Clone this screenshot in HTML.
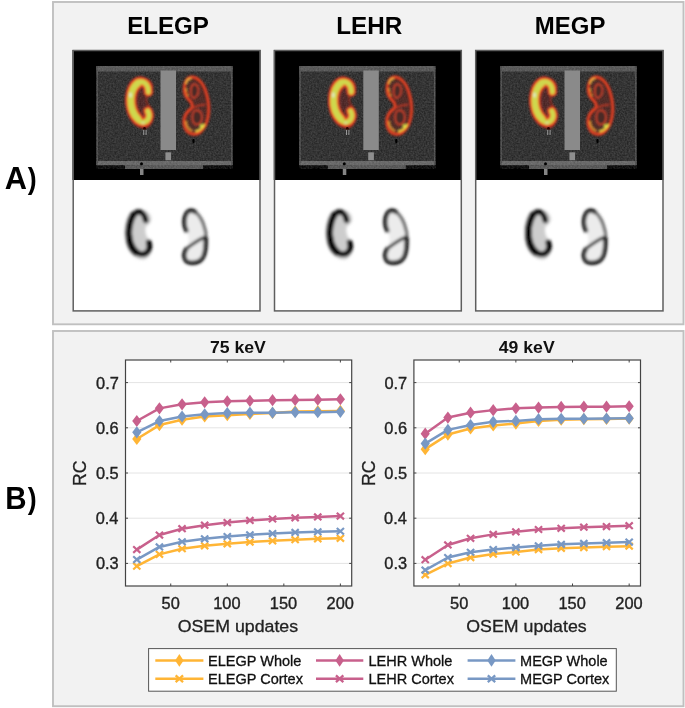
<!DOCTYPE html>
<html><head><meta charset="utf-8"><style>
html,body{margin:0;padding:0;background:#fff;width:685px;height:708px;overflow:hidden}
svg{display:block;will-change:transform;filter:blur(0.3px)}
text{font-family:"Liberation Sans", sans-serif;fill:#1a1a1a}
.hd{font-weight:bold;font-size:23.4px;fill:#000}
.ab{font-weight:bold;fill:#000}
.ttl{font-weight:bold;font-size:16.8px;fill:#111}
.tk{font-size:15.6px;fill:#222;stroke:#222;stroke-width:0.35px}
.lbl{font-size:17px;fill:#222;stroke:#222;stroke-width:0.3px}
.rc{font-size:17.7px;fill:#222;stroke:#222;stroke-width:0.3px}
.lg{font-size:13.9px;fill:#111;stroke:#111;stroke-width:0.3px}
</style></head><body>
<svg width="685" height="708" viewBox="0 0 685 708">

<defs>
<filter id="b08" x="-20%" y="-20%" width="140%" height="140%"><feGaussianBlur stdDeviation="0.8"/></filter>
<filter id="b15" x="-20%" y="-20%" width="140%" height="140%"><feGaussianBlur stdDeviation="1.4"/></filter>
<filter id="b18" x="-20%" y="-20%" width="140%" height="140%"><feGaussianBlur stdDeviation="1.7"/></filter>
<filter id="b13" x="-20%" y="-20%" width="140%" height="140%"><feGaussianBlur stdDeviation="1.75"/></filter>
<filter id="noise" x="0" y="0" width="100%" height="100%"><feTurbulence type="fractalNoise" baseFrequency="0.6" numOctaves="2" seed="3"/><feColorMatrix type="matrix" values="0 0 0 0 1  0 0 0 0 1  0 0 0 0 1  1.6 0 0 0 -0.3"/><feGaussianBlur stdDeviation="0.45"/></filter>
<path id="lk" stroke-linecap="round" d="M148.4,92 C148.6,86 145.5,81.6 140.5,81.6 C135.5,82 131.2,89 130.5,98 C130.1,107.5 133,116 138.5,120.5 C142,123.5 146.5,122.5 148.5,118.5 C149.5,116 149,113 147.8,111"/>
<path id="lko" d="M141,78 C147,77.7 152,81 152.5,87 C152.8,90 150,93 147,95 C146,99 147,104 150,107.5 C152,110 153.5,114 153,118 C152,124 148,128 144,127.8 C136,127.5 129,120 127,110 C125,100 126,90 130,83 C133,79 137,77 141,76.8 Z"/>
<path id="rk" d="M192.4,77 C198,77 204,82 207,90 C210,98 211,106 210.6,112 C210,120 207,128 201,132.5 C197,135 191,135 187.5,131.5 C184,128 183,122 184.5,117 C186,113 189,110 192.5,108 C193.5,105 192,102 189,99.5 C185.5,96.5 183.8,92 184.2,87.5 C184.8,81 188,77 192.4,77 Z"/>
</defs>

<defs><g id="ctc"><rect x="96.5" y="66" width="136" height="99" fill="#252525"/>
<rect x="96.5" y="66" width="136" height="5.5" fill="#4e4e4e"/>
<rect x="96.5" y="161" width="136" height="4.2" fill="#5e5e5e"/>
<rect x="96.5" y="66" width="1.4" height="99" fill="#4a4a4a"/>
<rect x="231.1" y="66" width="1.4" height="99" fill="#4a4a4a"/>
<rect x="125" y="165" width="78" height="4" fill="#4e4e4e"/>
<path d="M96.5,66H232.5V165.2H203V169H125V165.2H96.5Z" fill="#fff" filter="url(#noise)" opacity="0.14"/>
<rect x="140" y="169" width="3.5" height="6" fill="#858585"/>
<circle cx="141.5" cy="163.7" r="1.5" fill="#000"/>
<rect x="160.5" y="70.5" width="15.5" height="79.5" fill="#8a8a8a"/>
<rect x="165.4" y="152.3" width="5.7" height="8" fill="#8e8e8e"/>
<g filter="url(#b08)">
<use href="#lko" fill="#8a2018" fill-opacity="0.35" stroke="#b02a1c" stroke-width="1.2"/>
<use href="#lk" fill="none" stroke="#e03a26" stroke-width="9.6"/>
<path d="M138,83 C133,86.5 131,93 130.8,99.5 C130.6,107 133,114 138,119" fill="none" stroke="#e03a26" stroke-width="11.4" stroke-linecap="round"/>
<use href="#lk" fill="none" stroke="#e8a030" stroke-width="5.8"/>
<path d="M138,83 C133,86.5 131,93 130.8,99.5 C130.6,107 133,114 138,119" fill="none" stroke="#e8a030" stroke-width="7.4" stroke-linecap="round"/>
<use href="#lk" fill="none" stroke="#cfd84e" stroke-width="4.2"/>
<path d="M138,83 C133,86.5 131,93 130.8,99.5 C130.6,107 133,114 138,119" fill="none" stroke="#cfd84e" stroke-width="5.8" stroke-linecap="round"/>
<ellipse cx="130.5" cy="95" rx="1.6" ry="2.8" fill="#e4ead0" opacity="0.8"/>
<ellipse cx="143" cy="123" rx="2" ry="1.5" fill="#e0e4c0" opacity="0.5"/>
</g>
<g filter="url(#b08)"><g transform="matrix(0.93,0,0,1,12.9,0)">
<use href="#rk" fill="#6a2420" fill-opacity="0.55" stroke="#a02018" stroke-width="3.6"/>
<use href="#rk" fill="none" stroke="#e84a28" stroke-width="2.1"/>
<path d="M193,85 C196,83 199,85 199.5,89 C200,93 198,97 195,98 C192.5,98.5 191,95 191.2,91 C191.3,88 191.8,86 193,85Z" fill="#4a2a26" stroke="#c8402c" stroke-width="1.8"/>
<path d="M196,110.5 C200,109.5 203.5,112 203.5,117 C203.5,122 200.5,125 197,124.5 C194,124 192.5,120 193,116 C193.3,113 194.3,111 196,110.5Z" fill="#4a2a26" stroke="#c8402c" stroke-width="1.8"/>
<path d="M191.5,108.5 C196,106.5 201,105 207,104.5" fill="none" stroke="#c83a26" stroke-width="1.5"/>
<path d="M186,84 C186.5,80.5 189,78.5 192,78.5" fill="none" stroke="#f0b040" stroke-width="2.2"/>
<path d="M186,88 C186,91 187,94 188.5,96" fill="none" stroke="#e8a038" stroke-width="1.6"/>
<path d="M196,131.5 C200,131 204,128 206,124" fill="none" stroke="#e8c840" stroke-width="2.6"/>
<ellipse cx="203" cy="126" rx="2.2" ry="1.8" fill="#d8e048"/>
<path d="M186,121 C186,126 189,130 193,131" fill="none" stroke="#e89a34" stroke-width="2"/>
<circle cx="187.5" cy="93" r="1" fill="#a00"/>
</g></g>
<ellipse cx="193.5" cy="141" rx="1.2" ry="2.2" fill="#000"/>
<circle cx="144.5" cy="128.3" r="1.3" fill="#300"/>
<rect x="143.2" y="130" width="1" height="5" fill="#9a9a9a"/><rect x="145.6" y="130" width="1" height="5" fill="#9a9a9a"/></g><g id="grc"><g transform="translate(0,130)">
<g filter="url(#b13)">
<g transform="translate(-0.3,1.8)">
<use href="#lko" fill="#cdcdcd"/>
<path d="M147,88.5 C146,83 143,80 140,80 C135,80.5 131,88 130.4,97 C130.1,107 133,116 138.5,120.5 C142,123.5 147,123 149.5,119 C151,116.5 150.8,113 150,110.5" stroke="#000" stroke-width="5.6" fill="none" stroke-linecap="round"/>
<path d="M134.5,83 C130.5,90 129.5,100 130.5,108 C131.5,114 134,118 137,120.5" stroke="#000" stroke-width="6.5" fill="none" stroke-linecap="round"/>
</g><g transform="matrix(0.95,0,0,0.96,9.8,5.6)">
<path d="M187,99 C184,94 184,86 187,81 C189,78 193,77 196,79.5 C201,83 205,91 207,100 C207.5,105 207.5,110 207.2,113 C207,122 205,128 201,130.5 C196,133.5 190,133 187,131 C183.5,127 184,121 187.5,117.5 C190,112 190,104 187,99Z" fill="#ececec"/>
<path d="M187,99 C184,94 184,86 187,81 C189,78 193,77 196,79.5" stroke="#000" stroke-width="4.4" fill="none" stroke-linecap="round"/>
<path d="M196,79.5 C201,83 205,91 207,100 C207.5,103 207.4,105 207.2,106" stroke="#3a3a3a" stroke-width="2.8" fill="none"/>
<path d="M207.2,105.5 C203,107 197,110 187.5,117.5" stroke="#111" stroke-width="3.2" fill="none"/>
<path d="M187.5,117.5 C184,121 183.5,127 187,131 C190,133 196,133.5 201,130.5 C205,128 207,122 207.2,113 C207.3,110 207.2,107 207.2,105.5" stroke="#000" stroke-width="4.4" fill="none"/>
</g></g></g></g></defs>
<rect x="53" y="2" width="630.5" height="322.3" fill="#f2f2f2" stroke="#c0c0c0" stroke-width="1.9"/>
<rect x="72.5" y="50" width="188" height="130" fill="#000"/>
<rect x="72.5" y="180" width="188" height="131" fill="#fff"/>
<use href="#ctc" transform="translate(0,0)"/>
<use href="#grc" transform="translate(-1.0,0)"/>
<rect x="73.2" y="50.5" width="186.8" height="260.4" fill="none" stroke="#5e5e5e" stroke-width="1.5"/>
<text transform="translate(127.13,33.65) scale(1.0311,1)" class="hd" style="font-size:23.4px">ELEGP</text>
<rect x="273.8" y="50" width="188" height="130" fill="#000"/>
<rect x="273.8" y="180" width="188" height="131" fill="#fff"/>
<use href="#ctc" transform="translate(202.8,0)"/>
<use href="#grc" transform="translate(199.9,0)"/>
<rect x="274.5" y="50.5" width="186.8" height="260.4" fill="none" stroke="#5e5e5e" stroke-width="1.5"/>
<text transform="translate(336.22,33.65) scale(1.0363,1)" class="hd" style="font-size:23.4px">LEHR</text>
<rect x="475.0" y="50" width="188.5" height="130" fill="#000"/>
<rect x="475.0" y="180" width="188.5" height="131" fill="#fff"/>
<use href="#ctc" transform="translate(404.0,0)"/>
<use href="#grc" transform="translate(398.6,0)"/>
<rect x="475.7" y="50.5" width="187.3" height="260.4" fill="none" stroke="#5e5e5e" stroke-width="1.5"/>
<text transform="translate(534.84,33.65) scale(1.0241,1)" class="hd" style="font-size:23.4px">MEGP</text>
<text transform="translate(4.63,188.50) scale(1.0015,1)" class="ab" style="font-size:30.7px">A</text>
<text transform="translate(27.87,188.50) scale(0.8929,1)" class="ab" style="font-size:30px">)</text>
<rect x="53" y="331" width="630.5" height="375.2" fill="#f2f2f2" stroke="#c0c0c0" stroke-width="1.9"/>
<rect x="125.5" y="360.0" width="226.20" height="226.00" fill="#fff"/>
<line x1="125.5" x2="351.7" y1="563.40" y2="563.40" stroke="#e4e4e4" stroke-width="1"/>
<line x1="125.5" x2="351.7" y1="518.20" y2="518.20" stroke="#e4e4e4" stroke-width="1"/>
<line x1="125.5" x2="351.7" y1="473.00" y2="473.00" stroke="#e4e4e4" stroke-width="1"/>
<line x1="125.5" x2="351.7" y1="427.80" y2="427.80" stroke="#e4e4e4" stroke-width="1"/>
<line x1="125.5" x2="351.7" y1="382.60" y2="382.60" stroke="#e4e4e4" stroke-width="1"/>
<path d="M136.81,438.96L159.43,425.09L182.05,419.66L204.67,416.50L227.29,415.14L249.91,414.01L272.53,412.97L295.15,411.44L317.77,411.17L340.39,410.90" stroke="#ffb535" stroke-width="2.5" fill="none" stroke-linejoin="round"/>
<path d="M136.81,432.86L141.41,438.96L136.81,445.06L132.21,438.96Z" fill="#ffb535"/>
<path d="M159.43,418.99L164.03,425.09L159.43,431.19L154.83,425.09Z" fill="#ffb535"/>
<path d="M182.05,413.56L186.65,419.66L182.05,425.76L177.45,419.66Z" fill="#ffb535"/>
<path d="M204.67,410.40L209.27,416.50L204.67,422.60L200.07,416.50Z" fill="#ffb535"/>
<path d="M227.29,409.04L231.89,415.14L227.29,421.24L222.69,415.14Z" fill="#ffb535"/>
<path d="M249.91,407.91L254.51,414.01L249.91,420.11L245.31,414.01Z" fill="#ffb535"/>
<path d="M272.53,406.87L277.13,412.97L272.53,419.07L267.93,412.97Z" fill="#ffb535"/>
<path d="M295.15,405.34L299.75,411.44L295.15,417.54L290.55,411.44Z" fill="#ffb535"/>
<path d="M317.77,405.07L322.37,411.17L317.77,417.27L313.17,411.17Z" fill="#ffb535"/>
<path d="M340.39,404.80L344.99,410.90L340.39,417.00L335.79,410.90Z" fill="#ffb535"/>
<path d="M136.81,566.20L159.43,554.36L182.05,548.76L204.67,545.77L227.29,543.83L249.91,542.07L272.53,540.85L295.15,539.67L317.77,538.77L340.39,538.27" stroke="#ffb535" stroke-width="2.5" fill="none" stroke-linejoin="round"/>
<path d="M133.21,562.90L140.41,569.50M140.41,562.90L133.21,569.50" stroke="#ffb535" stroke-width="2.2" fill="none"/>
<path d="M155.83,551.06L163.03,557.66M163.03,551.06L155.83,557.66" stroke="#ffb535" stroke-width="2.2" fill="none"/>
<path d="M178.45,545.46L185.65,552.06M185.65,545.46L178.45,552.06" stroke="#ffb535" stroke-width="2.2" fill="none"/>
<path d="M201.07,542.47L208.27,549.07M208.27,542.47L201.07,549.07" stroke="#ffb535" stroke-width="2.2" fill="none"/>
<path d="M223.69,540.53L230.89,547.13M230.89,540.53L223.69,547.13" stroke="#ffb535" stroke-width="2.2" fill="none"/>
<path d="M246.31,538.77L253.51,545.37M253.51,538.77L246.31,545.37" stroke="#ffb535" stroke-width="2.2" fill="none"/>
<path d="M268.93,537.55L276.13,544.15M276.13,537.55L268.93,544.15" stroke="#ffb535" stroke-width="2.2" fill="none"/>
<path d="M291.55,536.37L298.75,542.97M298.75,536.37L291.55,542.97" stroke="#ffb535" stroke-width="2.2" fill="none"/>
<path d="M314.17,535.47L321.37,542.07M321.37,535.47L314.17,542.07" stroke="#ffb535" stroke-width="2.2" fill="none"/>
<path d="M336.79,534.97L343.99,541.57M343.99,534.97L336.79,541.57" stroke="#ffb535" stroke-width="2.2" fill="none"/>
<path d="M136.81,421.02L159.43,408.36L182.05,404.30L204.67,402.26L227.29,401.36L249.91,400.86L272.53,400.14L295.15,399.96L317.77,399.64L340.39,399.23" stroke="#c8608c" stroke-width="2.5" fill="none" stroke-linejoin="round"/>
<path d="M136.81,414.92L141.41,421.02L136.81,427.12L132.21,421.02Z" fill="#c8608c"/>
<path d="M159.43,402.26L164.03,408.36L159.43,414.46L154.83,408.36Z" fill="#c8608c"/>
<path d="M182.05,398.20L186.65,404.30L182.05,410.40L177.45,404.30Z" fill="#c8608c"/>
<path d="M204.67,396.16L209.27,402.26L204.67,408.36L200.07,402.26Z" fill="#c8608c"/>
<path d="M227.29,395.26L231.89,401.36L227.29,407.46L222.69,401.36Z" fill="#c8608c"/>
<path d="M249.91,394.76L254.51,400.86L249.91,406.96L245.31,400.86Z" fill="#c8608c"/>
<path d="M272.53,394.04L277.13,400.14L272.53,406.24L267.93,400.14Z" fill="#c8608c"/>
<path d="M295.15,393.86L299.75,399.96L295.15,406.06L290.55,399.96Z" fill="#c8608c"/>
<path d="M317.77,393.54L322.37,399.64L317.77,405.74L313.17,399.64Z" fill="#c8608c"/>
<path d="M340.39,393.13L344.99,399.23L340.39,405.33L335.79,399.23Z" fill="#c8608c"/>
<path d="M136.81,549.61L159.43,535.06L182.05,528.69L204.67,525.16L227.29,522.54L249.91,520.41L272.53,519.01L295.15,517.84L317.77,516.93L340.39,516.03" stroke="#c8608c" stroke-width="2.5" fill="none" stroke-linejoin="round"/>
<path d="M133.21,546.31L140.41,552.91M140.41,546.31L133.21,552.91" stroke="#c8608c" stroke-width="2.2" fill="none"/>
<path d="M155.83,531.76L163.03,538.36M163.03,531.76L155.83,538.36" stroke="#c8608c" stroke-width="2.2" fill="none"/>
<path d="M178.45,525.39L185.65,531.99M185.65,525.39L178.45,531.99" stroke="#c8608c" stroke-width="2.2" fill="none"/>
<path d="M201.07,521.86L208.27,528.46M208.27,521.86L201.07,528.46" stroke="#c8608c" stroke-width="2.2" fill="none"/>
<path d="M223.69,519.24L230.89,525.84M230.89,519.24L223.69,525.84" stroke="#c8608c" stroke-width="2.2" fill="none"/>
<path d="M246.31,517.11L253.51,523.71M253.51,517.11L246.31,523.71" stroke="#c8608c" stroke-width="2.2" fill="none"/>
<path d="M268.93,515.71L276.13,522.31M276.13,515.71L268.93,522.31" stroke="#c8608c" stroke-width="2.2" fill="none"/>
<path d="M291.55,514.54L298.75,521.14M298.75,514.54L291.55,521.14" stroke="#c8608c" stroke-width="2.2" fill="none"/>
<path d="M314.17,513.63L321.37,520.23M321.37,513.63L314.17,520.23" stroke="#c8608c" stroke-width="2.2" fill="none"/>
<path d="M336.79,512.73L343.99,519.33M343.99,512.73L336.79,519.33" stroke="#c8608c" stroke-width="2.2" fill="none"/>
<path d="M136.81,432.32L159.43,421.02L182.05,416.50L204.67,414.24L227.29,413.11L249.91,412.70L272.53,412.70L295.15,412.21L317.77,412.21L340.39,411.80" stroke="#7898c4" stroke-width="2.5" fill="none" stroke-linejoin="round"/>
<path d="M136.81,426.22L141.41,432.32L136.81,438.42L132.21,432.32Z" fill="#7898c4"/>
<path d="M159.43,414.92L164.03,421.02L159.43,427.12L154.83,421.02Z" fill="#7898c4"/>
<path d="M182.05,410.40L186.65,416.50L182.05,422.60L177.45,416.50Z" fill="#7898c4"/>
<path d="M204.67,408.14L209.27,414.24L204.67,420.34L200.07,414.24Z" fill="#7898c4"/>
<path d="M227.29,407.01L231.89,413.11L227.29,419.21L222.69,413.11Z" fill="#7898c4"/>
<path d="M249.91,406.60L254.51,412.70L249.91,418.80L245.31,412.70Z" fill="#7898c4"/>
<path d="M272.53,406.60L277.13,412.70L272.53,418.80L267.93,412.70Z" fill="#7898c4"/>
<path d="M295.15,406.11L299.75,412.21L295.15,418.31L290.55,412.21Z" fill="#7898c4"/>
<path d="M317.77,406.11L322.37,412.21L317.77,418.31L313.17,412.21Z" fill="#7898c4"/>
<path d="M340.39,405.70L344.99,411.80L340.39,417.90L335.79,411.80Z" fill="#7898c4"/>
<path d="M136.81,559.60L159.43,546.95L182.05,541.75L204.67,538.77L227.29,536.51L249.91,534.79L272.53,533.57L295.15,532.48L317.77,531.76L340.39,531.26" stroke="#7898c4" stroke-width="2.5" fill="none" stroke-linejoin="round"/>
<path d="M133.21,556.30L140.41,562.90M140.41,556.30L133.21,562.90" stroke="#7898c4" stroke-width="2.2" fill="none"/>
<path d="M155.83,543.65L163.03,550.25M163.03,543.65L155.83,550.25" stroke="#7898c4" stroke-width="2.2" fill="none"/>
<path d="M178.45,538.45L185.65,545.05M185.65,538.45L178.45,545.05" stroke="#7898c4" stroke-width="2.2" fill="none"/>
<path d="M201.07,535.47L208.27,542.07M208.27,535.47L201.07,542.07" stroke="#7898c4" stroke-width="2.2" fill="none"/>
<path d="M223.69,533.21L230.89,539.81M230.89,533.21L223.69,539.81" stroke="#7898c4" stroke-width="2.2" fill="none"/>
<path d="M246.31,531.49L253.51,538.09M253.51,531.49L246.31,538.09" stroke="#7898c4" stroke-width="2.2" fill="none"/>
<path d="M268.93,530.27L276.13,536.87M276.13,530.27L268.93,536.87" stroke="#7898c4" stroke-width="2.2" fill="none"/>
<path d="M291.55,529.18L298.75,535.78M298.75,529.18L291.55,535.78" stroke="#7898c4" stroke-width="2.2" fill="none"/>
<path d="M314.17,528.46L321.37,535.06M321.37,528.46L314.17,535.06" stroke="#7898c4" stroke-width="2.2" fill="none"/>
<path d="M336.79,527.96L343.99,534.56M343.99,527.96L336.79,534.56" stroke="#7898c4" stroke-width="2.2" fill="none"/>
<rect x="125.5" y="360.0" width="226.20" height="226.00" fill="none" stroke="#444" stroke-width="1.2"/>
<line x1="170.74" x2="170.74" y1="586.0" y2="583.5" stroke="#444" stroke-width="1"/>
<line x1="170.74" x2="170.74" y1="360.0" y2="362.5" stroke="#444" stroke-width="1"/>
<text transform="translate(161.55,608.90) scale(1.0500,1)" class="tk">50</text>
<line x1="227.29" x2="227.29" y1="586.0" y2="583.5" stroke="#444" stroke-width="1"/>
<line x1="227.29" x2="227.29" y1="360.0" y2="362.5" stroke="#444" stroke-width="1"/>
<text transform="translate(213.27,608.90) scale(1.0500,1)" class="tk">100</text>
<line x1="283.84" x2="283.84" y1="586.0" y2="583.5" stroke="#444" stroke-width="1"/>
<line x1="283.84" x2="283.84" y1="360.0" y2="362.5" stroke="#444" stroke-width="1"/>
<text transform="translate(269.82,608.90) scale(1.0500,1)" class="tk">150</text>
<line x1="340.39" x2="340.39" y1="586.0" y2="583.5" stroke="#444" stroke-width="1"/>
<line x1="340.39" x2="340.39" y1="360.0" y2="362.5" stroke="#444" stroke-width="1"/>
<text transform="translate(326.57,608.90) scale(1.0500,1)" class="tk">200</text>
<line x1="125.5" x2="128.0" y1="563.40" y2="563.40" stroke="#444" stroke-width="1"/>
<line x1="351.7" x2="349.2" y1="563.40" y2="563.40" stroke="#444" stroke-width="1"/>
<text transform="translate(95.97,569.40) scale(1.0500,1)" class="tk">0.3</text>
<line x1="125.5" x2="128.0" y1="518.20" y2="518.20" stroke="#444" stroke-width="1"/>
<line x1="351.7" x2="349.2" y1="518.20" y2="518.20" stroke="#444" stroke-width="1"/>
<text transform="translate(95.72,524.20) scale(1.0500,1)" class="tk">0.4</text>
<line x1="125.5" x2="128.0" y1="473.00" y2="473.00" stroke="#444" stroke-width="1"/>
<line x1="351.7" x2="349.2" y1="473.00" y2="473.00" stroke="#444" stroke-width="1"/>
<text transform="translate(95.89,479.00) scale(1.0500,1)" class="tk">0.5</text>
<line x1="125.5" x2="128.0" y1="427.80" y2="427.80" stroke="#444" stroke-width="1"/>
<line x1="351.7" x2="349.2" y1="427.80" y2="427.80" stroke="#444" stroke-width="1"/>
<text transform="translate(95.97,433.80) scale(1.0500,1)" class="tk">0.6</text>
<line x1="125.5" x2="128.0" y1="382.60" y2="382.60" stroke="#444" stroke-width="1"/>
<line x1="351.7" x2="349.2" y1="382.60" y2="382.60" stroke="#444" stroke-width="1"/>
<text transform="translate(96.05,388.60) scale(1.0500,1)" class="tk">0.7</text>
<text transform="translate(209.89,352.90) scale(1.0500,1)" class="ttl">75 keV</text>
<text transform="translate(177.69,631.70) scale(1.0450,1)" class="lbl">OSEM updates</text>
<text transform="translate(86.1,485.90) rotate(-90)" class="rc">RC</text>
<rect x="413.9" y="360.0" width="226.60" height="226.00" fill="#fff"/>
<line x1="413.9" x2="640.5" y1="563.40" y2="563.40" stroke="#e4e4e4" stroke-width="1"/>
<line x1="413.9" x2="640.5" y1="518.20" y2="518.20" stroke="#e4e4e4" stroke-width="1"/>
<line x1="413.9" x2="640.5" y1="473.00" y2="473.00" stroke="#e4e4e4" stroke-width="1"/>
<line x1="413.9" x2="640.5" y1="427.80" y2="427.80" stroke="#e4e4e4" stroke-width="1"/>
<line x1="413.9" x2="640.5" y1="382.60" y2="382.60" stroke="#e4e4e4" stroke-width="1"/>
<path d="M425.23,449.13L447.89,434.58L470.55,428.48L493.21,425.49L515.87,423.60L538.53,420.93L561.19,419.75L583.85,419.21L606.51,418.90L629.17,418.62" stroke="#ffb535" stroke-width="2.5" fill="none" stroke-linejoin="round"/>
<path d="M425.23,443.03L429.83,449.13L425.23,455.23L420.63,449.13Z" fill="#ffb535"/>
<path d="M447.89,428.48L452.49,434.58L447.89,440.68L443.29,434.58Z" fill="#ffb535"/>
<path d="M470.55,422.38L475.15,428.48L470.55,434.58L465.95,428.48Z" fill="#ffb535"/>
<path d="M493.21,419.39L497.81,425.49L493.21,431.59L488.61,425.49Z" fill="#ffb535"/>
<path d="M515.87,417.50L520.47,423.60L515.87,429.70L511.27,423.60Z" fill="#ffb535"/>
<path d="M538.53,414.83L543.13,420.93L538.53,427.03L533.93,420.93Z" fill="#ffb535"/>
<path d="M561.19,413.65L565.79,419.75L561.19,425.85L556.59,419.75Z" fill="#ffb535"/>
<path d="M583.85,413.11L588.45,419.21L583.85,425.31L579.25,419.21Z" fill="#ffb535"/>
<path d="M606.51,412.80L611.11,418.90L606.51,425.00L601.91,418.90Z" fill="#ffb535"/>
<path d="M629.17,412.52L633.77,418.62L629.17,424.72L624.57,418.62Z" fill="#ffb535"/>
<path d="M425.23,574.88L447.89,563.58L470.55,557.52L493.21,554.04L515.87,551.92L538.53,549.61L561.19,548.35L583.85,547.53L606.51,546.63L629.17,546.13" stroke="#ffb535" stroke-width="2.5" fill="none" stroke-linejoin="round"/>
<path d="M421.63,571.58L428.83,578.18M428.83,571.58L421.63,578.18" stroke="#ffb535" stroke-width="2.2" fill="none"/>
<path d="M444.29,560.28L451.49,566.88M451.49,560.28L444.29,566.88" stroke="#ffb535" stroke-width="2.2" fill="none"/>
<path d="M466.95,554.22L474.15,560.82M474.15,554.22L466.95,560.82" stroke="#ffb535" stroke-width="2.2" fill="none"/>
<path d="M489.61,550.74L496.81,557.34M496.81,550.74L489.61,557.34" stroke="#ffb535" stroke-width="2.2" fill="none"/>
<path d="M512.27,548.62L519.47,555.22M519.47,548.62L512.27,555.22" stroke="#ffb535" stroke-width="2.2" fill="none"/>
<path d="M534.93,546.31L542.13,552.91M542.13,546.31L534.93,552.91" stroke="#ffb535" stroke-width="2.2" fill="none"/>
<path d="M557.59,545.05L564.79,551.65M564.79,545.05L557.59,551.65" stroke="#ffb535" stroke-width="2.2" fill="none"/>
<path d="M580.25,544.23L587.45,550.83M587.45,544.23L580.25,550.83" stroke="#ffb535" stroke-width="2.2" fill="none"/>
<path d="M602.91,543.33L610.11,549.93M610.11,543.33L602.91,549.93" stroke="#ffb535" stroke-width="2.2" fill="none"/>
<path d="M625.57,542.83L632.77,549.43M632.77,542.83L625.57,549.43" stroke="#ffb535" stroke-width="2.2" fill="none"/>
<path d="M425.23,433.68L447.89,417.58L470.55,412.70L493.21,410.13L515.87,408.32L538.53,407.55L561.19,406.96L583.85,406.65L606.51,406.65L629.17,406.24" stroke="#c8608c" stroke-width="2.5" fill="none" stroke-linejoin="round"/>
<path d="M425.23,427.58L429.83,433.68L425.23,439.78L420.63,433.68Z" fill="#c8608c"/>
<path d="M447.89,411.48L452.49,417.58L447.89,423.68L443.29,417.58Z" fill="#c8608c"/>
<path d="M470.55,406.60L475.15,412.70L470.55,418.80L465.95,412.70Z" fill="#c8608c"/>
<path d="M493.21,404.03L497.81,410.13L493.21,416.23L488.61,410.13Z" fill="#c8608c"/>
<path d="M515.87,402.22L520.47,408.32L515.87,414.42L511.27,408.32Z" fill="#c8608c"/>
<path d="M538.53,401.45L543.13,407.55L538.53,413.65L533.93,407.55Z" fill="#c8608c"/>
<path d="M561.19,400.86L565.79,406.96L561.19,413.06L556.59,406.96Z" fill="#c8608c"/>
<path d="M583.85,400.55L588.45,406.65L583.85,412.75L579.25,406.65Z" fill="#c8608c"/>
<path d="M606.51,400.55L611.11,406.65L606.51,412.75L601.91,406.65Z" fill="#c8608c"/>
<path d="M629.17,400.14L633.77,406.24L629.17,412.34L624.57,406.24Z" fill="#c8608c"/>
<path d="M425.23,559.69L447.89,544.96L470.55,538.27L493.21,534.38L515.87,531.81L538.53,529.50L561.19,528.28L583.85,527.19L606.51,526.52L629.17,525.70" stroke="#c8608c" stroke-width="2.5" fill="none" stroke-linejoin="round"/>
<path d="M421.63,556.39L428.83,562.99M428.83,556.39L421.63,562.99" stroke="#c8608c" stroke-width="2.2" fill="none"/>
<path d="M444.29,541.66L451.49,548.26M451.49,541.66L444.29,548.26" stroke="#c8608c" stroke-width="2.2" fill="none"/>
<path d="M466.95,534.97L474.15,541.57M474.15,534.97L466.95,541.57" stroke="#c8608c" stroke-width="2.2" fill="none"/>
<path d="M489.61,531.08L496.81,537.68M496.81,531.08L489.61,537.68" stroke="#c8608c" stroke-width="2.2" fill="none"/>
<path d="M512.27,528.51L519.47,535.11M519.47,528.51L512.27,535.11" stroke="#c8608c" stroke-width="2.2" fill="none"/>
<path d="M534.93,526.20L542.13,532.80M542.13,526.20L534.93,532.80" stroke="#c8608c" stroke-width="2.2" fill="none"/>
<path d="M557.59,524.98L564.79,531.58M564.79,524.98L557.59,531.58" stroke="#c8608c" stroke-width="2.2" fill="none"/>
<path d="M580.25,523.89L587.45,530.49M587.45,523.89L580.25,530.49" stroke="#c8608c" stroke-width="2.2" fill="none"/>
<path d="M602.91,523.22L610.11,529.82M610.11,523.22L602.91,529.82" stroke="#c8608c" stroke-width="2.2" fill="none"/>
<path d="M625.57,522.40L632.77,529.00M632.77,522.40L625.57,529.00" stroke="#c8608c" stroke-width="2.2" fill="none"/>
<path d="M425.23,443.62L447.89,429.88L470.55,425.00L493.21,421.79L515.87,420.88L538.53,419.21L561.19,418.76L583.85,418.76L606.51,418.49L629.17,418.31" stroke="#7898c4" stroke-width="2.5" fill="none" stroke-linejoin="round"/>
<path d="M425.23,437.52L429.83,443.62L425.23,449.72L420.63,443.62Z" fill="#7898c4"/>
<path d="M447.89,423.78L452.49,429.88L447.89,435.98L443.29,429.88Z" fill="#7898c4"/>
<path d="M470.55,418.90L475.15,425.00L470.55,431.10L465.95,425.00Z" fill="#7898c4"/>
<path d="M493.21,415.69L497.81,421.79L493.21,427.89L488.61,421.79Z" fill="#7898c4"/>
<path d="M515.87,414.78L520.47,420.88L515.87,426.98L511.27,420.88Z" fill="#7898c4"/>
<path d="M538.53,413.11L543.13,419.21L538.53,425.31L533.93,419.21Z" fill="#7898c4"/>
<path d="M561.19,412.66L565.79,418.76L561.19,424.86L556.59,418.76Z" fill="#7898c4"/>
<path d="M583.85,412.66L588.45,418.76L583.85,424.86L579.25,418.76Z" fill="#7898c4"/>
<path d="M606.51,412.39L611.11,418.49L606.51,424.59L601.91,418.49Z" fill="#7898c4"/>
<path d="M629.17,412.21L633.77,418.31L629.17,424.41L624.57,418.31Z" fill="#7898c4"/>
<path d="M425.23,570.09L447.89,557.52L470.55,552.24L493.21,549.61L515.87,547.53L538.53,545.77L561.19,544.37L583.85,543.47L606.51,542.65L629.17,542.07" stroke="#7898c4" stroke-width="2.5" fill="none" stroke-linejoin="round"/>
<path d="M421.63,566.79L428.83,573.39M428.83,566.79L421.63,573.39" stroke="#7898c4" stroke-width="2.2" fill="none"/>
<path d="M444.29,554.22L451.49,560.82M451.49,554.22L444.29,560.82" stroke="#7898c4" stroke-width="2.2" fill="none"/>
<path d="M466.95,548.94L474.15,555.54M474.15,548.94L466.95,555.54" stroke="#7898c4" stroke-width="2.2" fill="none"/>
<path d="M489.61,546.31L496.81,552.91M496.81,546.31L489.61,552.91" stroke="#7898c4" stroke-width="2.2" fill="none"/>
<path d="M512.27,544.23L519.47,550.83M519.47,544.23L512.27,550.83" stroke="#7898c4" stroke-width="2.2" fill="none"/>
<path d="M534.93,542.47L542.13,549.07M542.13,542.47L534.93,549.07" stroke="#7898c4" stroke-width="2.2" fill="none"/>
<path d="M557.59,541.07L564.79,547.67M564.79,541.07L557.59,547.67" stroke="#7898c4" stroke-width="2.2" fill="none"/>
<path d="M580.25,540.17L587.45,546.77M587.45,540.17L580.25,546.77" stroke="#7898c4" stroke-width="2.2" fill="none"/>
<path d="M602.91,539.35L610.11,545.95M610.11,539.35L602.91,545.95" stroke="#7898c4" stroke-width="2.2" fill="none"/>
<path d="M625.57,538.77L632.77,545.37M632.77,538.77L625.57,545.37" stroke="#7898c4" stroke-width="2.2" fill="none"/>
<rect x="413.9" y="360.0" width="226.60" height="226.00" fill="none" stroke="#444" stroke-width="1.2"/>
<line x1="459.22" x2="459.22" y1="586.0" y2="583.5" stroke="#444" stroke-width="1"/>
<line x1="459.22" x2="459.22" y1="360.0" y2="362.5" stroke="#444" stroke-width="1"/>
<text transform="translate(450.03,608.90) scale(1.0500,1)" class="tk">50</text>
<line x1="515.87" x2="515.87" y1="586.0" y2="583.5" stroke="#444" stroke-width="1"/>
<line x1="515.87" x2="515.87" y1="360.0" y2="362.5" stroke="#444" stroke-width="1"/>
<text transform="translate(501.85,608.90) scale(1.0500,1)" class="tk">100</text>
<line x1="572.52" x2="572.52" y1="586.0" y2="583.5" stroke="#444" stroke-width="1"/>
<line x1="572.52" x2="572.52" y1="360.0" y2="362.5" stroke="#444" stroke-width="1"/>
<text transform="translate(558.50,608.90) scale(1.0500,1)" class="tk">150</text>
<line x1="629.17" x2="629.17" y1="586.0" y2="583.5" stroke="#444" stroke-width="1"/>
<line x1="629.17" x2="629.17" y1="360.0" y2="362.5" stroke="#444" stroke-width="1"/>
<text transform="translate(615.35,608.90) scale(1.0500,1)" class="tk">200</text>
<line x1="413.9" x2="416.4" y1="563.40" y2="563.40" stroke="#444" stroke-width="1"/>
<line x1="640.5" x2="638.0" y1="563.40" y2="563.40" stroke="#444" stroke-width="1"/>
<text transform="translate(384.37,569.40) scale(1.0500,1)" class="tk">0.3</text>
<line x1="413.9" x2="416.4" y1="518.20" y2="518.20" stroke="#444" stroke-width="1"/>
<line x1="640.5" x2="638.0" y1="518.20" y2="518.20" stroke="#444" stroke-width="1"/>
<text transform="translate(384.12,524.20) scale(1.0500,1)" class="tk">0.4</text>
<line x1="413.9" x2="416.4" y1="473.00" y2="473.00" stroke="#444" stroke-width="1"/>
<line x1="640.5" x2="638.0" y1="473.00" y2="473.00" stroke="#444" stroke-width="1"/>
<text transform="translate(384.29,479.00) scale(1.0500,1)" class="tk">0.5</text>
<line x1="413.9" x2="416.4" y1="427.80" y2="427.80" stroke="#444" stroke-width="1"/>
<line x1="640.5" x2="638.0" y1="427.80" y2="427.80" stroke="#444" stroke-width="1"/>
<text transform="translate(384.37,433.80) scale(1.0500,1)" class="tk">0.6</text>
<line x1="413.9" x2="416.4" y1="382.60" y2="382.60" stroke="#444" stroke-width="1"/>
<line x1="640.5" x2="638.0" y1="382.60" y2="382.60" stroke="#444" stroke-width="1"/>
<text transform="translate(384.45,388.60) scale(1.0500,1)" class="tk">0.7</text>
<text transform="translate(498.75,352.90) scale(1.0500,1)" class="ttl">49 keV</text>
<text transform="translate(466.29,631.70) scale(1.0450,1)" class="lbl">OSEM updates</text>
<text transform="translate(375.0,485.90) rotate(-90)" class="rc">RC</text>
<rect x="148.6" y="648.6" width="467.7" height="42.6" fill="#fff" stroke="#555" stroke-width="1"/>
<line x1="155.3" x2="203.4" y1="660.4" y2="660.4" stroke="#ffb535" stroke-width="2.5"/>
<path d="M179.35,654.10L183.55,660.40L179.35,666.70L175.15,660.40Z" fill="#ffb535"/>
<text transform="translate(208.04,665.70) scale(1.0450,1)" class="lg">ELEGP Whole</text>
<line x1="155.3" x2="203.4" y1="678.8" y2="678.8" stroke="#ffb535" stroke-width="2.5"/>
<path d="M175.65,675.40L183.05,682.20M183.05,675.40L175.65,682.20" stroke="#ffb535" stroke-width="2.3" fill="none"/>
<text transform="translate(208.04,684.10) scale(1.0450,1)" class="lg">ELEGP Cortex</text>
<line x1="316" x2="363.3" y1="660.4" y2="660.4" stroke="#c8608c" stroke-width="2.5"/>
<path d="M339.65,654.10L343.85,660.40L339.65,666.70L335.45,660.40Z" fill="#c8608c"/>
<text transform="translate(368.44,665.70) scale(1.0450,1)" class="lg">LEHR Whole</text>
<line x1="316" x2="363.3" y1="678.8" y2="678.8" stroke="#c8608c" stroke-width="2.5"/>
<path d="M335.95,675.40L343.35,682.20M343.35,675.40L335.95,682.20" stroke="#c8608c" stroke-width="2.3" fill="none"/>
<text transform="translate(368.44,684.10) scale(1.0450,1)" class="lg">LEHR Cortex</text>
<line x1="467.6" x2="515.4" y1="660.4" y2="660.4" stroke="#7898c4" stroke-width="2.5"/>
<path d="M491.50,654.10L495.70,660.40L491.50,666.70L487.30,660.40Z" fill="#7898c4"/>
<text transform="translate(520.04,665.70) scale(1.0450,1)" class="lg">MEGP Whole</text>
<line x1="467.6" x2="515.4" y1="678.8" y2="678.8" stroke="#7898c4" stroke-width="2.5"/>
<path d="M487.80,675.40L495.20,682.20M495.20,675.40L487.80,682.20" stroke="#7898c4" stroke-width="2.3" fill="none"/>
<text transform="translate(520.04,684.10) scale(1.0450,1)" class="lg">MEGP Cortex</text>
<text transform="translate(5.28,508.50) scale(0.9612,1)" class="ab" style="font-size:30.7px">B</text>
<text transform="translate(27.87,508.50) scale(0.8929,1)" class="ab" style="font-size:30px">)</text>
</svg>
</body></html>
